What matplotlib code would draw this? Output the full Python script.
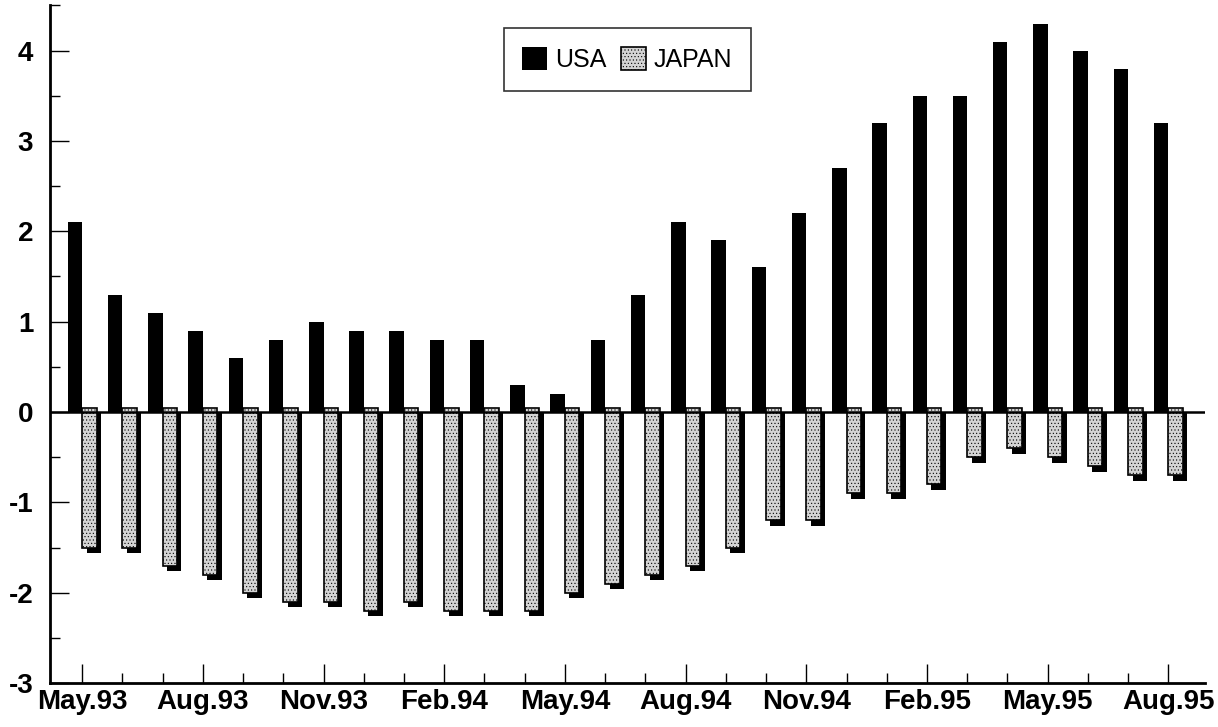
import matplotlib.pyplot as plt
import numpy as np

plt.rcParams['font.family'] = ['Liberation Sans', 'DejaVu Sans']
plt.rcParams['hatch.linewidth'] = 0.4

months = ['May.93', 'Jun.93', 'Jul.93', 'Aug.93', 'Sep.93', 'Oct.93', 'Nov.93',
          'Dec.93', 'Jan.94', 'Feb.94', 'Mar.94', 'Apr.94', 'May.94', 'Jun.94',
          'Jul.94', 'Aug.94', 'Sep.94', 'Oct.94', 'Nov.94', 'Dec.94', 'Jan.95',
          'Feb.95', 'Mar.95', 'Apr.95', 'May.95', 'Jun.95', 'Jul.95', 'Aug.95']
usa = [2.1, 1.3, 1.1, 0.9, 0.6, 0.8, 1.0, 0.9, 0.9, 0.8, 0.8, 0.3, 0.2, 0.8,
       1.3, 2.1, 1.9, 1.6, 2.2, 2.7, 3.2, 3.5, 3.5, 4.1, 4.3, 4.0, 3.8, 3.2]
japan = [-1.5, -1.5, -1.7, -1.8, -2.0, -2.1, -2.1, -2.2, -2.1, -2.2, -2.2, -2.2,
         -2.0, -1.9, -1.8, -1.7, -1.5, -1.2, -1.2, -0.9, -0.9, -0.8, -0.5, -0.4,
         -0.5, -0.6, -0.7, -0.7]

x = np.arange(len(months))
w = 0.36
dx, dy = 0.11, 0.06  # shadow offset for the pseudo-3D look

fig = plt.figure(figsize=(12.18, 7.27), dpi=100)
ax = fig.add_axes([0.041, 0.0605, 0.948, 0.932])

# USA bars (solid black)
ax.bar(x - w / 2, usa, w, color='black', zorder=3, label='USA')
# JAPAN shadow + bars
ax.bar(x + w / 2 + dx, np.array(japan) - dy, w, bottom=0.0, color='black', zorder=2)
ax.bar(x + w / 2, np.array(japan) - 0.04, w, bottom=0.04, color='#d4d4d4',
       edgecolor='black', linewidth=1.2, hatch='.....', zorder=3, label='JAPAN')

ax.axhline(0, color='black', lw=1.8, zorder=4)

ax.set_xlim(-0.8, 27.9)
ax.set_ylim(-3, 4.5)
ax.set_xticks(x[::3])
ax.set_xticklabels(months[::3], fontsize=20, fontweight='bold')
ax.set_xticks(x, minor=True)
ax.set_yticks([-3, -2, -1, 0, 1, 2, 3, 4])
ax.set_yticklabels(['-3', '-2', '-1', '0', '1', '2', '3', '4'], fontsize=20, fontweight='bold')
ax.set_yticks(np.arange(-3, 4.6, 0.5), minor=True)
ax.tick_params(which='major', direction='in', length=14, width=1)
ax.tick_params(which='minor', direction='in', length=7, width=1)
ax.tick_params(axis='x', pad=4)
ax.tick_params(axis='y', pad=12)

for s in ['top', 'right']:
    ax.spines[s].set_visible(False)
for s in ['left', 'bottom']:
    ax.spines[s].set_linewidth(2)

leg = ax.legend(loc='upper center', bbox_to_anchor=(0.5, 0.966), ncol=2,
                fontsize=18, frameon=True, fancybox=False, edgecolor='black',
                handlelength=1.0, handleheight=1.0, handletextpad=0.3,
                columnspacing=0.6, borderpad=0.75, borderaxespad=0)
leg.get_frame().set_linewidth(1.2)

fig.savefig('out.png', dpi=100)
